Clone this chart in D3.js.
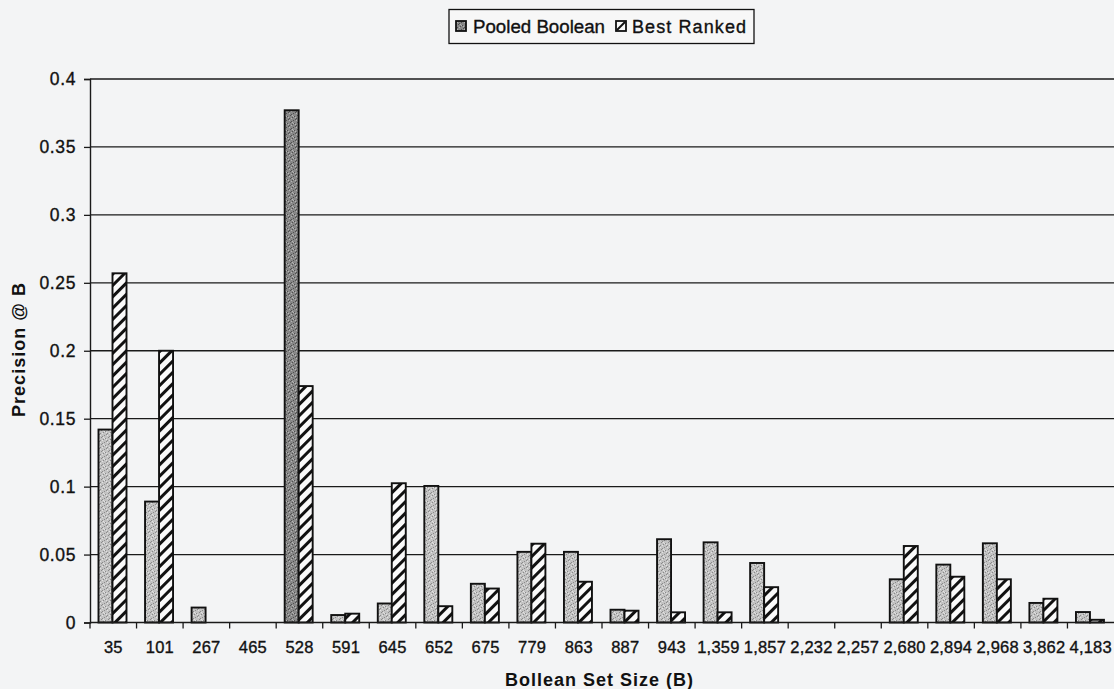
<!DOCTYPE html>
<html>
<head>
<meta charset="utf-8">
<script src="https://cdn.jsdelivr.net/npm/d3@7"></script>
<style>
  html, body { margin: 0; padding: 0; background: #f3f4f5; }
  svg { display: block; }
  text { font-family: Arial, "Liberation Sans", sans-serif; fill: #111; }
  .heavy { stroke: #111; stroke-width: 0.35px; }
</style>
</head>
<body>
<svg id="chart" width="1114" height="689"></svg>
<script>
const categories = ["35","101","267","465","528","591","645","652","675","779","863","887","943","1,359","1,857","2,232","2,257","2,680","2,894","2,968","3,862","4,183"];
const pooledBoolean = [0.142,0.089,0.011,0,0.377,0.0055,0.014,0.1005,0.0285,0.052,0.052,0.0094,0.0613,0.059,0.0438,0,0,0.0318,0.0426,0.0583,0.0144,0.0077];
const bestRanked = [0.257,0.2,0,0,0.174,0.0065,0.1025,0.012,0.025,0.058,0.03,0.0087,0.0075,0.0075,0.026,0,0,0.0563,0.0337,0.0318,0.0175,0.002];
const seriesNames = ["Pooled Boolean", "Best Ranked"];
const yTicks = [0, 0.05, 0.1, 0.15, 0.2, 0.25, 0.3, 0.35, 0.4];
const xTitle = "Bollean Set Size (B)";
const yTitle = "Precision @ B";

const svg = d3.select("#chart");
const W = 1114, H = 689;
const plot = { left: 90, right: 1114, top: 79, bottom: 622.5 };

svg.append("rect").attr("width", W).attr("height", H).attr("fill", "#f3f4f5");

const defs = svg.append("defs");
function speckle(id, base, dark, light) {
  const p = defs.append("pattern").attr("id", id).attr("patternUnits", "userSpaceOnUse")
    .attr("width", 7).attr("height", 7);
  p.append("rect").attr("width", 7).attr("height", 7).attr("fill", base);
  const darkDots = [[1,0],[4,2],[0,4],[5,5],[2,6],[6,1],[3,3]];
  const lightDots = [[2,1],[5,3],[1,5],[4,6],[6,4]];
  darkDots.forEach(([x,y]) => p.append("rect").attr("x", x).attr("y", y).attr("width", 1).attr("height", 1).attr("fill", dark));
  lightDots.forEach(([x,y]) => p.append("rect").attr("x", x).attr("y", y).attr("width", 1).attr("height", 1).attr("fill", light));
}
speckle("pooled", "#c2c2c2", "#8a8a8a", "#e2e2e2");
speckle("pooledDark", "#888888", "#505050", "#b5b5b5");
const hp = defs.append("pattern").attr("id", "hatch").attr("patternUnits", "userSpaceOnUse")
  .attr("width", 8).attr("height", 8).attr("patternTransform", "rotate(45)");
hp.append("rect").attr("width", 8).attr("height", 8).attr("fill", "#fafafa");
hp.append("rect").attr("x", 0).attr("y", 0).attr("width", 3).attr("height", 8).attr("fill", "#111");

const x = d3.scaleBand().domain(categories).range([plot.left, plot.right]).paddingInner(0).paddingOuter(0);
const y = d3.scaleLinear().domain([0, 0.4]).range([plot.bottom, plot.top]);
const barW = 14;
const offset = 8.5;

// gridlines
svg.append("g").selectAll("line").data(yTicks.filter(t => t > 0)).join("line")
  .attr("x1", plot.left).attr("x2", plot.right)
  .attr("y1", d => y(d)).attr("y2", d => y(d))
  .attr("stroke", "#1a1a1a").attr("stroke-width", 1.3);

// y axis
const yAxis = d3.axisLeft(y).tickValues(yTicks).tickSize(6).tickPadding(8).tickFormat(d => String(+d.toFixed(2)));
const gy = svg.append("g").attr("transform", `translate(${plot.left},0)`).call(yAxis);
gy.select(".domain").attr("stroke", "#1a1a1a").attr("stroke-width", 1.4);
gy.selectAll(".tick line").attr("stroke", "#1a1a1a").attr("stroke-width", 1.3);
gy.selectAll(".tick text").attr("class", "heavy").attr("font-size", 17.5).attr("fill", "#111")
  .style("letter-spacing", "0.6px").attr("font-family", "Arial, 'Liberation Sans', sans-serif");

// bars
const rows = categories.map((c, i) => ({ c, i, p: pooledBoolean[i], b: bestRanked[i] }));
const g = svg.append("g");
g.selectAll("rect.pooled").data(rows.filter(d => d.p > 0)).join("rect")
  .attr("class", "pooled")
  .attr("x", d => x(d.c) + offset)
  .attr("y", d => y(d.p))
  .attr("width", barW)
  .attr("height", d => y(0) - y(d.p))
  .attr("fill", d => d.c === "528" ? "url(#pooledDark)" : "url(#pooled)")
  .attr("stroke", "#111").attr("stroke-width", 1.9);
g.selectAll("rect.best").data(rows.filter(d => d.b > 0)).join("rect")
  .attr("class", "best")
  .attr("x", d => x(d.c) + offset + barW)
  .attr("y", d => y(d.b))
  .attr("width", barW)
  .attr("height", d => y(0) - y(d.b))
  .attr("fill", "url(#hatch)")
  .attr("stroke", "#111").attr("stroke-width", 1.9);

// x axis
const xAxis = d3.axisBottom(x).tickSize(0).tickPadding(0);
const gx = svg.append("g").attr("transform", `translate(0,${plot.bottom})`).call(xAxis);
gx.select(".domain").remove();
gx.selectAll(".tick text").attr("class", "heavy").attr("font-size", 16.5).attr("y", 30).attr("dy", 0).attr("fill", "#111")
  .style("letter-spacing", "0.2px").attr("font-family", "Arial, 'Liberation Sans', sans-serif");
svg.append("line").attr("x1", plot.left).attr("x2", plot.right).attr("y1", plot.bottom).attr("y2", plot.bottom)
  .attr("stroke", "#1a1a1a").attr("stroke-width", 1.4);
svg.append("g").selectAll("line").data(categories).join("line")
  .attr("x1", d => x(d)).attr("x2", d => x(d))
  .attr("y1", plot.bottom).attr("y2", plot.bottom + 6)
  .attr("stroke", "#1a1a1a").attr("stroke-width", 1.3);

// axis titles
svg.append("text").attr("x", 599).attr("y", 686).attr("text-anchor", "middle")
  .attr("font-size", 18).attr("font-weight", "bold")
  .attr("textLength", 188).attr("lengthAdjust", "spacing").text(xTitle);
svg.append("text").attr("transform", "translate(25,350) rotate(-90)").attr("text-anchor", "middle")
  .attr("font-size", 18).attr("font-weight", "bold")
  .attr("textLength", 134).attr("lengthAdjust", "spacing").text(yTitle);

// legend
const lg = svg.append("g");
lg.append("rect").attr("x", 449).attr("y", 9.5).attr("width", 305).attr("height", 34)
  .attr("fill", "#f7f7f7").attr("stroke", "#111").attr("stroke-width", 1.3);
lg.append("rect").attr("x", 456).attr("y", 21).attr("width", 10).attr("height", 10)
  .attr("fill", "url(#pooledDark)").attr("stroke", "#111").attr("stroke-width", 1.8);
lg.append("text").attr("class", "heavy").attr("x", 473).attr("y", 32.5).attr("font-size", 18)
  .attr("textLength", 132).attr("lengthAdjust", "spacingAndGlyphs").text(seriesNames[0]);
lg.append("rect").attr("x", 616).attr("y", 21).attr("width", 10).attr("height", 10)
  .attr("fill", "#fafafa").attr("stroke", "#111").attr("stroke-width", 1.8);
lg.append("line").attr("x1", 617).attr("y1", 30).attr("x2", 625).attr("y2", 22)
  .attr("stroke", "#111").attr("stroke-width", 2);
lg.append("text").attr("class", "heavy").attr("x", 632).attr("y", 32.5).attr("font-size", 18)
  .attr("textLength", 114).attr("lengthAdjust", "spacing").text(seriesNames[1]);
</script>
</body>
</html>
